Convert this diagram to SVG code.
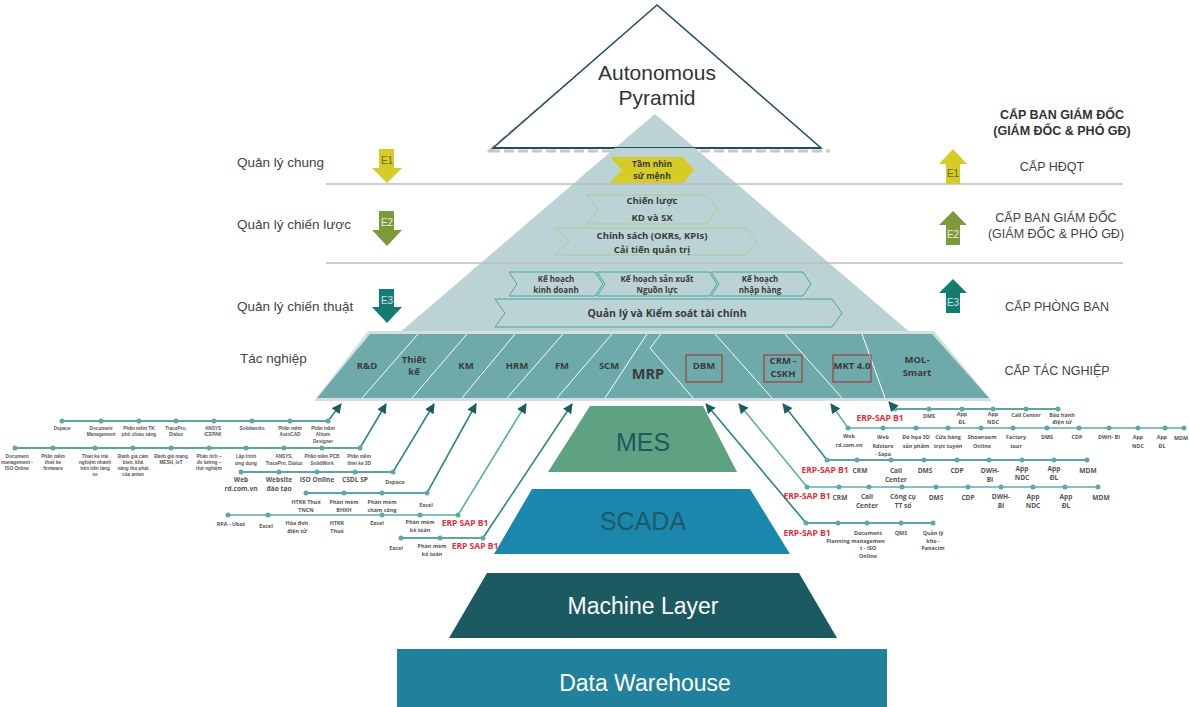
<svg xmlns="http://www.w3.org/2000/svg" width="1189" height="707" viewBox="0 0 1189 707">
<style>
.lbl{font-family:"Liberation Sans",Arial,sans-serif;font-size:13.5px;fill:#444}
.rt{font-family:"Liberation Sans",Arial,sans-serif;font-size:12.5px;fill:#444;text-anchor:middle}
.rtb{font-family:"Liberation Sans",Arial,sans-serif;font-size:12.5px;fill:#333;font-weight:bold;text-anchor:middle}
.et{font-family:"Liberation Sans",Arial,sans-serif;font-size:10px;text-anchor:middle}
.ch{font-family:"Open Sans","Liberation Sans",sans-serif;font-weight:bold;fill:#3a3a3a;text-anchor:middle}
.cell{font-family:"Open Sans","Liberation Sans",sans-serif;font-weight:bold;fill:#3a3a3a;font-size:9.5px;text-anchor:middle}
.t4{font-family:"Liberation Sans",Arial,sans-serif;font-weight:bold;fill:#555;font-size:4.7px;text-anchor:middle}
.t5{font-family:"Open Sans","Liberation Sans",sans-serif;font-weight:bold;fill:#555;font-size:5.4px;text-anchor:middle}
.t6{font-family:"Open Sans","Liberation Sans",sans-serif;font-weight:bold;fill:#555;font-size:6.6px;text-anchor:middle}
.red{font-family:"Open Sans","Liberation Sans",sans-serif;font-weight:bold;fill:#e0303a;font-size:8.5px;text-anchor:middle}
.big{font-family:"Liberation Sans",Arial,sans-serif;text-anchor:middle}
.row{fill:none;stroke:#2a8785;stroke-width:1.6;marker-start:url(#dot);marker-mid:url(#dot);marker-end:url(#arr)}
.rowl{fill:none;stroke:#5eaeab;stroke-width:1.6;marker-start:url(#dot);marker-mid:url(#dot);marker-end:url(#arr)}
.div{stroke:#ffffff;stroke-width:1;fill:none}
.hl{stroke:#bdbdbd;stroke-width:1.6}
.chev{fill:none;stroke-width:0.9}
</style>
<defs>
<marker id="dot" markerWidth="6" markerHeight="6" refX="3" refY="3" markerUnits="userSpaceOnUse"><circle cx="3" cy="3" r="2.5" fill="#5fa8a6"/></marker>
<marker id="arr" markerWidth="12" markerHeight="12" refX="9" refY="5" orient="auto" markerUnits="userSpaceOnUse"><path d="M0,0 L10,5 L0,10 Z" fill="#1b5e60"/></marker>
</defs>

<!-- top triangle -->
<g id="autonomous">
<polyline points="488,152 652,11" fill="none" stroke="#c8c8c8" stroke-width="3" stroke-dasharray="10,4"/>
<line x1="490" y1="151" x2="830" y2="151" stroke="#c8c8c8" stroke-width="3" stroke-dasharray="10,4"/>
<polygon points="657,5 493,148 821,148" fill="#ffffff" stroke="#1f4e5f" stroke-width="1.5"/>
<polygon points="655,114 615,148 695,148" fill="#bcd3d5"/>
<line x1="493" y1="148" x2="821" y2="148" stroke="#1f4e5f" stroke-width="2"/>
<text class="big" x="657" y="80" font-size="21" fill="#333">Autonomous</text>
<text class="big" x="657" y="105" font-size="21" fill="#333">Pyramid</text>
</g>

<!-- light pyramid -->
<g id="pyramid">
<polygon points="655,148 695,148 912,334 398,334 615,148" fill="#bcd3d5"/>
</g>

<!-- horizontal lines -->
<g id="levels">
<line class="hl" x1="326" y1="184" x2="1123" y2="184"/>
<line class="hl" x1="326" y1="263" x2="1123" y2="263"/>
</g>

<!-- left labels -->
<g id="left-labels">
<text class="lbl" x="237" y="167">Quản lý chung</text>
<text class="lbl" x="237" y="229">Quản lý chiến lược</text>
<text class="lbl" x="237" y="311">Quản lý chiến thuật</text>
<text class="lbl" x="240" y="363">Tác nghiệp</text>
</g>

<!-- left arrows -->
<g id="e1-down"><polygon points="379,149 394,149 394,168 402,168 387,183 372,168 379,168" fill="#d5cc26"/><text class="et" x="387" y="164" fill="#6b6a1a">E1</text></g>
<g id="e2-down"><polygon points="379,211 394,211 394,230 402,230 387,246 372,230 379,230" fill="#7b9b3b"/><text class="et" x="387" y="226" fill="#e6eed8">E2</text></g>
<g id="e3-down"><polygon points="379,289 394,289 394,307 402,307 387,323 372,307 379,307" fill="#137c72"/><text class="et" x="387" y="304" fill="#cde6e2">E3</text></g>

<!-- right arrows -->
<g id="e1-up"><polygon points="953,149 967,164 960,164 960,184 946,184 946,164 939,164" fill="#d5cc26"/><text class="et" x="953" y="177" fill="#6b6a1a">E1</text></g>
<g id="e2-up"><polygon points="953,211 967,225 960,225 960,245 946,245 946,225 939,225" fill="#7b9b3b"/><text class="et" x="953" y="238" fill="#e6eed8">E2</text></g>
<g id="e3-up"><polygon points="953,279 967,293 960,293 960,313 946,313 946,293 939,293" fill="#137c72"/><text class="et" x="953" y="306" fill="#cde6e2">E3</text></g>

<!-- right labels -->
<g id="right-labels">
<text class="rtb" x="1062" y="119">CẤP BAN GIÁM ĐỐC</text>
<text class="rtb" x="1062" y="135">(GIÁM ĐỐC &amp; PHÓ GĐ)</text>
<text class="rt" x="1052" y="171">CẤP HĐQT</text>
<text class="rt" x="1056" y="222">CẤP BAN GIÁM ĐỐC</text>
<text class="rt" x="1056" y="238">(GIÁM ĐỐC &amp; PHÓ GĐ)</text>
<text class="rt" x="1057" y="311">CẤP PHÒNG BAN</text>
<text class="rt" x="1057" y="375">CẤP TÁC NGHIỆP</text>
</g>

<!-- chevrons -->
<g id="tam-nhin">
<polygon points="610,157 683,157 694,170 683,183 610,183 622,170" fill="#d5cc26"/>
<text class="ch" font-size="8.5" x="652" y="167">Tầm nhìn</text>
<text class="ch" font-size="8.5" x="652" y="179">sứ mệnh</text>
</g>
<g id="chien-luoc">
<polygon class="chev" points="587,195 706,195 718,209 706,224 587,224 598,209" stroke="#a9c98a"/>
<text class="ch" font-size="9.5" x="652" y="204">Chiến lược</text>
<text class="ch" font-size="9.5" x="652" y="221">KD và SX</text>
</g>
<g id="chinh-sach">
<polygon class="chev" points="555,228 745,228 757,241 745,255 555,255 569,241" stroke="#a9c98a"/>
<text class="ch" font-size="9.5" x="652" y="239">Chính sách (OKRs, KPIs)</text>
<text class="ch" font-size="9.5" x="652" y="253">Cải tiến quản trị</text>
</g>
<g id="kh-kinh-doanh">
<polygon class="chev" points="509,272 595,272 603,284 595,296 509,296 517,284" stroke="#3aa09b"/>
<text class="ch" font-size="8" x="556" y="282">Kế hoạch</text>
<text class="ch" font-size="8" x="556" y="293">kinh doanh</text>
</g>
<g id="kh-san-xuat">
<polygon class="chev" points="597,272 709,272 717,284 709,296 597,296 605,284" stroke="#3aa09b"/>
<text class="ch" font-size="8" x="657" y="282">Kế hoạch sản xuất</text>
<text class="ch" font-size="8" x="657" y="293">Nguồn lực</text>
</g>
<g id="kh-nhap-hang">
<polygon class="chev" points="711,272 803,272 811,284 803,296 711,296 719,284" stroke="#3aa09b"/>
<text class="ch" font-size="8" x="760" y="282">Kế hoạch</text>
<text class="ch" font-size="8" x="760" y="293">nhập hàng</text>
</g>
<g id="tai-chinh">
<polygon class="chev" points="495,299 832,299 842,313 832,327 495,327 505,313" stroke="#3aa09b"/>
<text class="ch" font-size="10.5" x="667" y="317">Quản lý và Kiểm soát tài chính</text>
</g>

<!-- operational band -->
<g id="band">
<polygon points="368,331 934,331 992,401 314,401" fill="#d4e0e0"/>
<polygon points="370,334 932,334 989,398 317,398" fill="#6eaaa9"/>
<line class="div" x1="418" y1="334" x2="362" y2="398"/>
<line class="div" x1="467" y1="334" x2="412" y2="398"/>
<line class="div" x1="515" y1="334" x2="462" y2="398"/>
<line class="div" x1="563" y1="334" x2="507" y2="398"/>
<line class="div" x1="612" y1="334" x2="557" y2="398"/>
<line class="div" x1="647" y1="334" x2="605" y2="398"/>
<polyline class="div" points="661,334 650,348 693,398"/>
<line class="div" x1="715" y1="334" x2="772" y2="398"/>
<line class="div" x1="785" y1="334" x2="842" y2="398"/>
<line class="div" x1="862" y1="334" x2="885" y2="398"/>
<text class="cell" x="367" y="369">R&amp;D</text>
<text class="cell" x="414" y="363">Thiết</text>
<text class="cell" x="414" y="375">kế</text>
<text class="cell" x="466" y="369">KM</text>
<text class="cell" x="517" y="369">HRM</text>
<text class="cell" x="562" y="369">FM</text>
<text class="cell" x="609" y="369">SCM</text>
<text class="cell" x="648" y="379" style="font-size:14.5px">MRP</text>
<rect x="686" y="355" width="36" height="27" fill="none" stroke="#b0242c" stroke-width="1"/>
<text class="cell" x="704" y="369">DBM</text>
<rect x="764" y="355" width="38" height="27" fill="none" stroke="#b0242c" stroke-width="1"/>
<text class="cell" x="783" y="364">CRM -</text>
<text class="cell" x="783" y="377">CSKH</text>
<rect x="833" y="355" width="38" height="27" fill="none" stroke="#b0242c" stroke-width="1"/>
<text class="cell" x="852" y="369">MKT 4.0</text>
<text class="cell" x="917" y="363">MOL-</text>
<text class="cell" x="917" y="376">Smart</text>
</g>

<!-- lower layers -->
<g id="mes"><polygon points="590,406 703,406 737,472 548,472" fill="#5ea183"/><text class="big" x="643" y="451" font-size="25" fill="#1c5a5e">MES</text></g>
<g id="scada"><polygon points="532,489 750,489 790,554 494,554" fill="#1b87ad"/><text class="big" x="643" y="530" font-size="25" fill="#1c5a6a">SCADA</text></g>
<g id="machine"><polygon points="487,573 799,573 837,638 449,638" fill="#1a5a60"/><text class="big" x="643" y="614" font-size="23" fill="#ffffff">Machine Layer</text></g>
<g id="dwh"><rect x="397" y="649" width="490" height="58" fill="#21809b"/><text class="big" x="645" y="691" font-size="23" fill="#ffffff">Data Warehouse</text></g>

<!-- connectors -->
<g id="connectors">
<polyline class="row" points="62,421 101,421 139,421 176,421 214,421 252,421 290,421 328,421 341,404"/>
<polyline class="row" points="15,448 53,448 95,448 133,448 171,448 209,448 246,448 284,448 322,448 360,448 386,404"/>
<polyline class="row" points="241,472 279,472 317,472 355,472 393,472 434,404"/>
<polyline class="row" points="306,493 344,493 382,493 427,493 476,404"/>
<polyline class="rowl" points="228,515 268,515 382,515 420,515 458,515 526,404"/>
<polyline class="row" points="401,538 440,538 483,538 572,404"/>
<polyline class="row" points="1058,409 1026,409 993,409 962,409 929,409 895,409 889,402"/>
<polyline class="rowl" points="1184,428 1165,428 1138,428 1109,428 1079,428 1047,428 1013,428 981,428 948,428 916,428 883,428 848,428 831,404"/>
<polyline class="row" points="1087,460 1054,460 1022,460 989,460 957,460 924,460 891,460 857,460 827,460 783,404"/>
<polyline class="rowl" points="1098,487 1065,487 1033,487 1001,487 968,487 936,487 902,487 869,487 839,487 807,487 739,404"/>
<polyline class="row" points="933,523 901,523 867,523 838,523 806,523 706,404"/>
</g>

<!-- left tree labels -->
<g id="tree-left-labels">
<text class="t4" x="62" y="430">Dspace</text>
<text class="t4" x="101" y="430">Document<tspan x="101" dy="6.3">Management</tspan></text>
<text class="t4" x="139" y="430">Phần mềm TK<tspan x="139" dy="6.3">phổ chiếu sáng</tspan></text>
<text class="t4" x="176" y="430">TracePro,<tspan x="176" dy="6.3">Dialux</tspan></text>
<text class="t4" x="213" y="430">ANSYS<tspan x="213" dy="6.3">ICEPAK</tspan></text>
<text class="t4" x="252" y="430">Solidworks</text>
<text class="t4" x="290" y="430">Phần mềm<tspan x="290" dy="6.3">AutoCAD</tspan></text>
<text class="t4" x="323" y="430">Phần mềm<tspan x="323" dy="6.3">Altium</tspan><tspan x="323" dy="6.3">Designer</tspan></text>

<text class="t4" x="17" y="458">Document<tspan x="17" dy="6">management -</tspan><tspan x="17" dy="6">ISO Online</tspan></text>
<text class="t4" x="53" y="458">Phần mềm<tspan x="53" dy="6">thiết kế</tspan><tspan x="53" dy="6">firmware</tspan></text>
<text class="t4" x="95" y="458">Thiết kế trải<tspan x="95" dy="6">nghiệm nhanh</tspan><tspan x="95" dy="6">trên nền tảng</tspan><tspan x="95" dy="6">số</tspan></text>
<text class="t4" x="133" y="458">Đánh giá cảm<tspan x="133" dy="6">biến, khả</tspan><tspan x="133" dy="6">năng thu phát</tspan><tspan x="133" dy="6">của anten</tspan></text>
<text class="t4" x="171" y="458">Đánh giá mạng<tspan x="171" dy="6">MESH, IoT</tspan></text>
<text class="t4" x="209" y="458">Phân tích –<tspan x="209" dy="6">đo  lường –</tspan><tspan x="209" dy="6">thử  nghiệm</tspan></text>
<text class="t4" x="246" y="458">Lập trình<tspan x="246" dy="6.5">ứng dụng</tspan></text>
<text class="t4" x="284" y="458">ANSYS,<tspan x="284" dy="6.5">TracePro, Dialux</tspan></text>
<text class="t4" x="322" y="458">Phần mềm PCB<tspan x="322" dy="6.5">SolidWork</tspan></text>
<text class="t4" x="359" y="458">Phần mềm<tspan x="359" dy="6.5">thiết  kế 3D</tspan></text>

<text class="t6" x="241" y="482">Web<tspan x="241" dy="8.5">rd.com.vn</tspan></text>
<text class="t6" x="279" y="482">Website<tspan x="279" dy="8.5">đào tạo</tspan></text>
<text class="t6" x="317" y="482">ISO Online</text>
<text class="t6" x="355" y="482">CSDL SP</text>
<text class="t5" x="395" y="484">Dspace</text>

<text class="t5" x="306" y="504">HTKK Thuế<tspan x="306" dy="7.5">TNCN</tspan></text>
<text class="t5" x="344" y="504">Phần mềm<tspan x="344" dy="7.5">BHXH</tspan></text>
<text class="t5" x="382" y="504">Phần mềm<tspan x="382" dy="7.5">chấm công</tspan></text>
<text class="t5" x="426" y="507">Excel</text>

<text class="t5" x="231" y="526">RPA - Ubot</text>
<text class="t5" x="266" y="528">Excel</text>
<text class="t5" x="297" y="525">Hóa đơn<tspan x="297" dy="7.5">điện tử</tspan></text>
<text class="t5" x="337" y="525">HTKK<tspan x="337" dy="7.5">Thuế</tspan></text>
<text class="t5" x="377" y="525">Excel</text>
<text class="t5" x="420" y="524">Phần mềm<tspan x="420" dy="8">kế toán</tspan></text>
<text class="red" x="465" y="526">ERP SAP B1</text>

<text class="t5" x="396" y="550">Excel</text>
<text class="t5" x="432" y="548">Phần mềm<tspan x="432" dy="8">kế toán</tspan></text>
<text class="red" x="475" y="549">ERP SAP B1</text>
</g>

<!-- right tree labels -->
<g id="tree-right-labels">
<text class="red" x="880" y="421">ERP-SAP B1</text>
<text class="t5" x="929" y="418">DMS</text>
<text class="t5" x="962" y="416">App<tspan x="962" dy="8">ĐL</tspan></text>
<text class="t5" x="993" y="416">App<tspan x="993" dy="8">NDC</tspan></text>
<text class="t5" x="1026" y="417">Call Center</text>
<text class="t5" x="1062" y="417">Bảo hành<tspan x="1062" dy="7">điện  tử</tspan></text>

<text class="t5" x="849" y="438">Web<tspan x="849" dy="8.5">rd.com.vn</tspan></text>
<text class="t5" x="883" y="439">Web<tspan x="883" dy="8.5">Rdstore</tspan><tspan x="883" dy="8.5">- Sapo</tspan></text>
<text class="t5" x="916" y="439">Đồ họa 3D<tspan x="916" dy="8.5">sản phẩm</tspan></text>
<text class="t5" x="948" y="439">Cửa hàng<tspan x="948" dy="8.5">trực tuyến</tspan></text>
<text class="t5" x="982" y="439">Showroom<tspan x="982" dy="8.5">Online</tspan></text>
<text class="t5" x="1016" y="439">Factory<tspan x="1016" dy="8.5">tour</tspan></text>
<text class="t5" x="1047" y="439">DMS</text>
<text class="t5" x="1077" y="439">CDP</text>
<text class="t5" x="1109" y="439">DWH- BI</text>
<text class="t5" x="1138" y="439">App<tspan x="1138" dy="8.5">NDC</tspan></text>
<text class="t5" x="1162" y="439">App<tspan x="1162" dy="8.5">ĐL</tspan></text>
<text class="t5" x="1181" y="440">MDM</text>

<text class="red" x="825" y="473">ERP-SAP B1</text>
<text class="t6" x="860" y="473">CRM</text>
<text class="t6" x="896" y="473">Call<tspan x="896" dy="9">Center</tspan></text>
<text class="t6" x="925" y="473">DMS</text>
<text class="t6" x="957" y="473">CDP</text>
<text class="t6" x="990" y="473">DWH-<tspan x="990" dy="9">BI</tspan></text>
<text class="t6" x="1022" y="471">App<tspan x="1022" dy="9">NDC</tspan></text>
<text class="t6" x="1054" y="471">App<tspan x="1054" dy="9">ĐL</tspan></text>
<text class="t6" x="1088" y="473">MDM</text>

<text class="red" x="807" y="499">ERP-SAP B1</text>
<text class="t6" x="840" y="500">CRM</text>
<text class="t6" x="867" y="499">Call<tspan x="867" dy="9">Center</tspan></text>
<text class="t6" x="903" y="499">Công cụ<tspan x="903" dy="9">TT số</tspan></text>
<text class="t6" x="936" y="500">DMS</text>
<text class="t6" x="968" y="500">CDP</text>
<text class="t6" x="1001" y="499">DWH-<tspan x="1001" dy="9">BI</tspan></text>
<text class="t6" x="1033" y="499">App<tspan x="1033" dy="9">NDC</tspan></text>
<text class="t6" x="1066" y="499">App<tspan x="1066" dy="9">ĐL</tspan></text>
<text class="t6" x="1101" y="500">MDM</text>

<text class="red" x="807" y="536">ERP-SAP B1</text>
<text class="t5" x="838" y="543">Planning</text>
<text class="t5" x="868" y="535">Document<tspan x="868" dy="7.5">managemen</tspan><tspan x="868" dy="7.5">t - ISO</tspan><tspan x="868" dy="7.5">Online</tspan></text>
<text class="t5" x="901" y="535">QMS</text>
<text class="t5" x="933" y="535">Quản lý<tspan x="933" dy="7.5">kho -</tspan><tspan x="933" dy="7.5">Panacim</tspan></text>
</g>
</svg>
